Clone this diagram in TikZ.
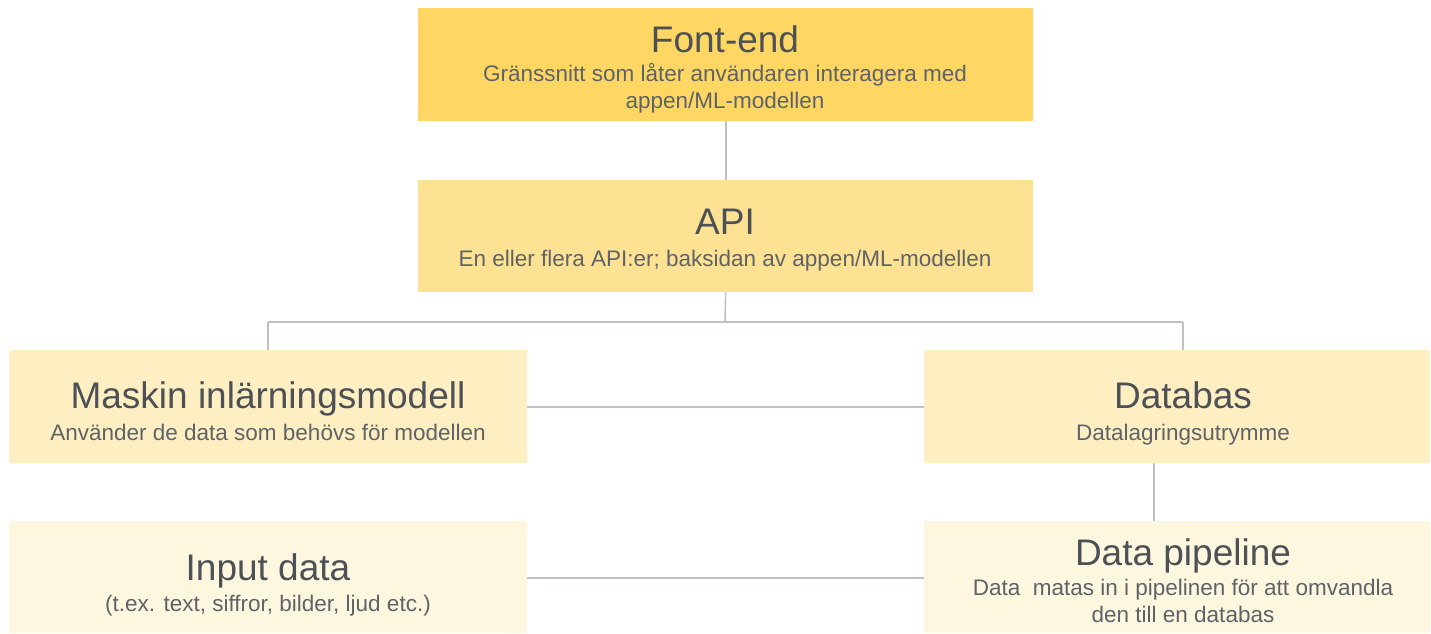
\documentclass[tikz,border=0pt]{standalone}
\usepackage{fontspec}
\setmainfont{Liberation Sans}
\usetikzlibrary{calc}
\definecolor{yA}{HTML}{FDD663}
\definecolor{yB}{HTML}{FDE293}
\definecolor{yC}{HTML}{FEEFC3}
\definecolor{yD}{HTML}{FEF7E0}
\definecolor{tt}{HTML}{4D5156}
\definecolor{st}{HTML}{5F6368}
\definecolor{ln}{HTML}{BDC1C6}
\begin{document}
\begin{tikzpicture}[x=1pt,y=-1pt,
  box/.style={rectangle,inner sep=0pt,anchor=north west},
  ttl/.style={font=\fontsize{37}{42}\selectfont,text=tt,anchor=base},
  sub/.style={font=\fontsize{22.5}{27}\selectfont,text=st,align=center,anchor=base},
  conn/.style={draw=ln,line width=1.6pt}]
\useasboundingbox (0,0) rectangle (1431,633);
% boxes
\fill[yA] (418,8) rectangle (1033,121);
\node[box,minimum width=615pt,minimum height=113pt] (fe) at (418,8) {};
\fill[yB] (418,180) rectangle (1033,292);
\node[box,minimum width=615pt,minimum height=112pt] (api) at (418,180) {};
\fill[yC] (9,350) rectangle (527,463);
\node[box,minimum width=518pt,minimum height=113pt] (ml) at (9,350) {};
\fill[yC] (924,350) rectangle (1430,463);
\node[box,minimum width=506pt,minimum height=113pt] (db) at (924,350) {};
\fill[yD] (9,521) rectangle (527,633);
\node[box,minimum width=518pt,minimum height=112pt] (in) at (9,521) {};
\fill[yD] (924,521) rectangle (1430,633);
\node[box,minimum width=506pt,minimum height=112pt] (dp) at (924,521) {};
% texts
\node[ttl] (t1) at (725,52) {Font-end};
\node[sub] (s1) at (725,108) {Gränssnitt som låter användaren interagera med\\appen/ML-modellen};
\node[ttl] (t2) at (725,234) {API};
\node[sub] (s2) at (725,266) {En eller flera API:er; baksidan av appen/ML-modellen};
\node[ttl] (t3) at (268,408) {Maskin inlärningsmodell};
\node[sub] (s3) at (268,440) {Använder de data som behövs för modellen};
\node[ttl] (t4) at (1183,408) {Databas};
\node[sub] (s4) at (1183,440) {Datalagringsutrymme};
\node[ttl] (t5) at (268,580) {Input data};
\node[sub] (s5) at (268,611) {(t.ex. text, siffror, bilder, ljud etc.)};
\node[ttl] (t6) at (1183,565) {Data pipeline};
\node[sub] (s6) at (1183,622) {Data\ \ matas in i pipelinen för att omvandla\\den till en databas};
% connectors
\coordinate (j) at (725,322);
\coordinate (jl) at (268,322);
\coordinate (jr) at (1183,322);
\draw[conn] (fe.south) -- (api.north);
\draw[conn] (api.south) -- (j);
\draw[conn] (jl) -- (jr);
\draw[conn] (jl) -- (jl |- ml.north);
\draw[conn] (jr) -- (jr |- db.north);
\draw[conn] (ml.east) -- (db.west);
\coordinate (dbx) at (1154,463);
\draw[conn] (dbx) -- (dbx |- dp.north);
\draw[conn] ($(in.east)+(0,1)$) -- ($(dp.west)+(0,1)$);
\end{tikzpicture}
\end{document}
